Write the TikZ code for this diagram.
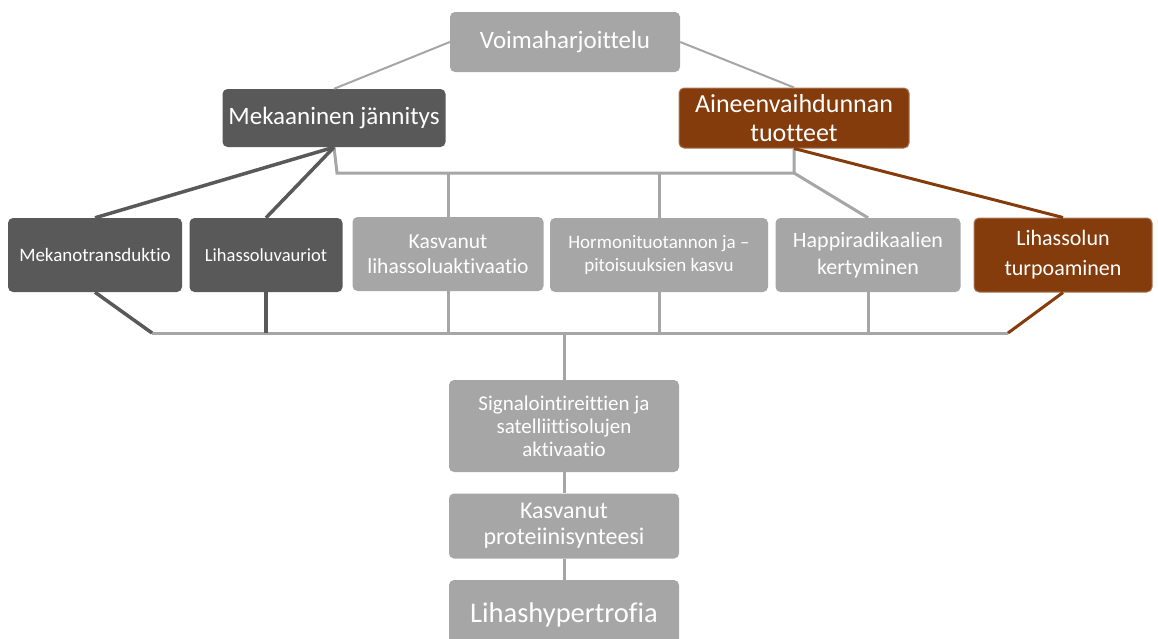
\documentclass[tikz,border=0pt]{standalone}
\usepackage{fontspec}
\setmainfont{Carlito}[Ligatures={NoCommon}]
\usepackage{tikz}
\usetikzlibrary{positioning}
\definecolor{darkgrey}{HTML}{595959}
\definecolor{lightgrey}{HTML}{A6A6A6}
\definecolor{rust}{HTML}{843C0C}
\tikzstyle{box} = [rectangle, rounded corners=5pt, text=white, align=center, inner sep=2pt]
\tikzstyle{darkbox} = [box, fill=darkgrey]
\tikzstyle{lightbox} = [box, fill=lightgrey]
\tikzstyle{rustbox} = [box, fill=rust, draw=rust!70!white, line width=1pt]
\tikzstyle{greyline} = [lightgrey, line width=3pt]
\tikzstyle{thinline} = [lightgrey, line width=2pt]
\tikzstyle{darkline} = [darkgrey, line width=3.5pt]
\tikzstyle{rustline} = [rust, line width=3pt]

\begin{document}
\begin{tikzpicture}[x=1pt, y=-1pt]
\useasboundingbox (0,0) rectangle (1158,638);
% top level
\node (voima) [lightbox, minimum width=230pt, minimum height=60pt, font=\fontsize{25}{28}\selectfont] at (565,42) {Voimaharjoittelu};
\node (mek) [darkbox, minimum width=223pt, minimum height=58pt, font=\fontsize{25}{28}\selectfont] at (334,118) {Mekaaninen jännitys};
\node (aineen) [rustbox, minimum width=230pt, minimum height=60pt, font=\fontsize{26}{29}\selectfont] at (794,118) {Aineenvaihdunnan\\tuotteet};
% middle row
\node (mekano) [darkbox, minimum width=174pt, minimum height=74pt, font=\fontsize{19}{22}\selectfont] at (95,255) {Mekanotransduktio};
\node (vauriot) [darkbox, minimum width=153pt, minimum height=74pt, font=\fontsize{18.5}{22}\selectfont] at (266,255) {Lihassoluvauriot};
\node (kasv) [lightbox, minimum width=191pt, minimum height=74pt, font=\fontsize{21.5}{25}\selectfont] at (448,254) {Kasvanut\\lihassoluaktivaatio};
\node (horm) [lightbox, minimum width=218pt, minimum height=74pt, font=\fontsize{19}{23}\selectfont] at (659,255) {Hormonituotannon ja --\\pitoisuuksien kasvu};
\node (happi) [lightbox, minimum width=185pt, minimum height=74pt, font=\fontsize{22}{27}\selectfont] at (868,255) {Happiradikaalien\\kertyminen};
\node (turpo) [rustbox, minimum width=178pt, minimum height=74pt, font=\fontsize{22}{30}\selectfont] at (1063,255) {Lihassolun\\turpoaminen};
% lower chain
\node (signal) [lightbox, minimum width=230pt, minimum height=92pt, font=\fontsize{21}{23}\selectfont] at (564,426) {Signalointireittien ja\\satelliittisolujen\\aktivaatio};
\node (prot) [lightbox, minimum width=230pt, minimum height=65pt, font=\fontsize{24}{26}\selectfont] at (564,526) {Kasvanut\\proteiinisynteesi};
\node (hyper) [lightbox, minimum width=230pt, minimum height=70pt, font=\fontsize{28.5}{31}\selectfont] at (564,615) {Lihashypertrofia};

\coordinate (tl) at (337,173);
\coordinate (tr) at (794,173);
\coordinate (bl) at (152,333);
\coordinate (br) at (1008,333);
\coordinate (bm) at (564,333);

\draw [thinline] (voima.west) -- (mek.north);
\draw [thinline] (voima.east) -- (aineen.north);
\draw [greyline] (mek.south) -- (tl) -- (tr) -- (aineen.south);
\draw [greyline] (kasv.north) -- (kasv.north |- tl);
\draw [greyline] (horm.north) -- (horm.north |- tl);
\draw [greyline] (tr) -- (happi.north);
\draw [darkline] (mek.south) -- (mekano.north);
\draw [darkline] (mek.south) -- (vauriot.north);
\draw [rustline] (aineen.south) -- (turpo.north);

\draw [greyline] (bl) -- (br);
\draw [darkline] (mekano.south) -- (bl);
\draw [darkline] (vauriot.south) -- (vauriot.south |- bl);
\draw [greyline] (kasv.south) -- (kasv.south |- bl);
\draw [greyline] (horm.south) -- (horm.south |- bl);
\draw [greyline] (happi.south) -- (happi.south |- bl);
\draw [rustline] (turpo.south) -- (br);
\draw [greyline] (bm) -- (signal.north);
\draw [greyline] (signal) -- (prot);
\draw [greyline] (prot) -- (hyper);
\end{tikzpicture}
\end{document}
